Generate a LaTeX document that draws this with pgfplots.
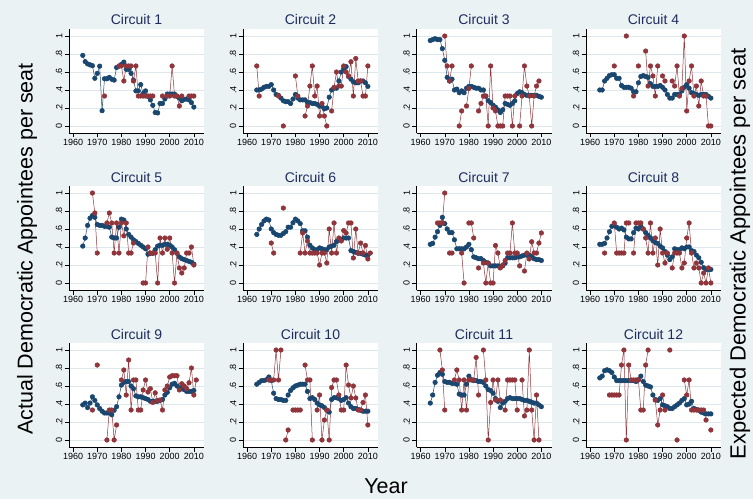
\documentclass[border=0pt]{standalone}
\usepackage{pgfplots}
\pgfplotsset{compat=1.18}
\usepackage{pgfplotstable}
\usepackage{fontspec}
\setmainfont{Liberation Sans}
\definecolor{bgc}{RGB}{234,242,243}
\definecolor{gridc}{RGB}{222,232,236}
\definecolor{titc}{RGB}{30,45,95}
\definecolor{navyc}{RGB}{26,71,111}
\definecolor{maroonc}{RGB}{144,53,59}
\pgfplotsset{
  panel/.style={
    scale only axis, width=135pt, height=104pt, anchor=south west,
    xmin=1958.3, xmax=2014.2, ymin=-0.078, ymax=1.078,
    axis x line=bottom, axis y line=left, axis line style={-, black, line width=0.5pt},
    axis background/.style={fill=white},
    xtick={1960,1970,1980,1990,2000,2010},
    xticklabels={1960,1970,1980,1990,2000,2010},
    ytick={0,0.2,0.4,0.6,0.8,1},
    yticklabels={0,.2,.4,.6,.8,1},
    ymajorgrids, grid style={gridc, line width=0.6pt},
    tick align=outside, major tick length=4.5pt,
    tick style={black, line width=0.5pt},
    /pgf/number format/assume math mode=true,
    ticklabel style={font=\fontsize{9}{10}\selectfont},
    yticklabel style={rotate=90, anchor=south, inner sep=2pt},
    xticklabel style={inner sep=2pt},
    title style={font=\fontsize{14}{15}\selectfont, color=titc, at={(0.5,1)}, anchor=base, yshift=-2pt},
    unbounded coords=jump,
  },
  blueser/.style={navyc, line width=0.5pt, mark=*, mark size=2.3pt, mark options={fill=navyc, draw=navyc}},
  redser/.style={maroonc, line width=0.5pt, mark=*, mark size=2.3pt, mark options={fill=maroonc, draw=maroonc}},
}
\pgfplotstableread{
yr b r
1964 .785 nan
1965 .715 nan
1966 .69 nan
1967 .68 nan
1968 .67 nan
1969 .53 nan
1970 .585 nan
1971 .665 nan
1972 .17 nan
1973 .525 .333
1974 .525 nan
1975 .54 nan
1976 .52 nan
1977 .51 nan
1978 .65 nan
1979 .665 .667
1980 .685 .667
1981 .71 .5
1982 .63 .667
1983 .63 .667
1984 .585 .667
1985 .51 .5
1986 .39 .667
1987 .39 .333
1988 .46 .333
1989 .36 .333
1990 .39 .333
1991 .33 .333
1992 .29 .333
1993 .23 .333
1994 .15 nan
1995 .145 nan
1996 .25 nan
1997 .25 .333
1998 .30 nan
1999 .355 .333
2000 .355 .333
2001 .355 .667
2002 .355 .333
2003 .33 .333
2004 .31 .222
2005 .28 .333
2006 .295 nan
2007 .30 nan
2008 .29 .333
2009 .26 .333
2010 .21 .333
}\tA
\pgfplotstableread{
yr b r
1964 .40 .667
1965 .40 .333
1966 .41 nan
1967 .43 nan
1968 .44 nan
1969 .44 nan
1970 .46 nan
1971 .40 nan
1972 .35 nan
1973 .34 .333
1974 .31 nan
1975 .28 0
1976 .27 nan
1977 .27 nan
1978 .25 nan
1979 .30 nan
1980 .35 .556
1981 .31 .333
1982 .29 nan
1983 .29 nan
1984 .29 .111
1985 .26 .222
1986 .26 .444
1987 .25 .667
1988 .25 .333
1989 .24 .444
1990 .22 .111
1991 .22 .25
1992 .19 .111
1993 .20 0
1994 .32 nan
1995 .40 .167
1996 .42 .429
1997 .42 .6
1998 .50 .444
1999 .60 .444
2000 .64 .667
2001 .66 .6
2002 .55 .556
2003 .52 .714
2004 .49 .333
2005 .48 .75
2006 .48 .5
2007 .50 .5
2008 .50 .333
2009 .48 .333
2010 .44 .667
}\tB
\pgfplotstableread{
yr b r
1964 .95 nan
1965 .96 nan
1966 .97 nan
1967 .96 nan
1968 .96 nan
1969 .86 nan
1970 .73 1.0
1971 .54 .667
1972 .50 .5
1973 .52 .667
1974 .40 nan
1975 .41 nan
1976 .37 0
1977 .39 .167
1978 .37 nan
1979 .42 .222
1980 .44 .417
1981 .44 .667
1982 .43 nan
1983 .42 nan
1984 .42 .167
1985 .40 .25
1986 .40 .333
1987 .33 .333
1988 .28 0
1989 .26 .667
1990 .23 .2
1991 .21 .167
1992 .18 0
1993 .15 0
1994 .18 0
1995 .25 .333
1996 .24 .333
1997 .23 .333
1998 .25 0
1999 .28 .333
2000 .36 nan
2001 .38 0
2002 .37 .333
2003 .35 .667
2004 .34 .444
2005 .34 .333
2006 .34 0
2007 .34 .333
2008 .34 .444
2009 .33 .5
2010 .32 nan
}\tC
\pgfplotstableread{
yr b r
1964 .40 nan
1965 .40 nan
1966 .50 nan
1967 .53 nan
1968 .56 nan
1969 .57 nan
1970 .57 .667
1971 .53 nan
1972 .53 nan
1973 .45 nan
1974 .43 nan
1975 .43 1.0
1976 .43 nan
1977 .42 nan
1978 .38 .333
1979 .38 nan
1980 .48 .667
1981 .55 nan
1982 .56 nan
1983 .55 .833
1984 .54 .444
1985 .47 .667
1986 .44 .556
1987 .44 .333
1988 .44 .667
1989 .45 nan
1990 .43 .556
1991 .40 .5
1992 .35 nan
1993 .31 nan
1994 .31 .5
1995 .35 .444
1996 .35 .667
1997 .35 .333
1998 .39 .417
1999 .43 1.0
2000 .46 .167
2001 .42 .5
2002 .37 .667
2003 .36 .333
2004 .35 .444
2005 .34 .222
2006 .35 .5
2007 .35 .333
2008 .35 .333
2009 .33 0
2010 .31 0
}\tD
\pgfplotstableread{
yr b r
1964 .41 nan
1965 .50 nan
1966 .64 nan
1967 .72 nan
1968 .75 1.0
1969 .73 .778
1970 .65 .333
1971 .64 nan
1972 .64 nan
1973 .63 nan
1974 .63 .667
1975 .62 .778
1976 .51 .667
1977 .50 .333
1978 .50 .667
1979 .62 .333
1980 .71 .667
1981 .70 .524
1982 .60 .667
1983 .54 .333
1984 .51 .333
1985 .48 .444
1986 .46 nan
1987 .44 nan
1988 .42 nan
1989 .40 0
1990 .38 0
1991 .32 .4
1992 .33 .333
1993 .33 .333
1994 .37 .333
1995 .41 0
1996 .42 .5
1997 .42 .333
1998 .43 .5
1999 .43 .375
2000 .42 .5
2001 .40 .333
2002 .37 0
2003 .33 .333
2004 .29 .167
2005 .27 .111
2006 .26 .167
2007 .25 .333
2008 .24 .333
2009 .23 .4
2010 .21 .2
}\tE
\pgfplotstableread{
yr b r
1964 .54 nan
1965 .60 nan
1966 .65 nan
1967 .69 nan
1968 .71 nan
1969 .70 nan
1970 .60 .444
1971 .56 .333
1972 .54 nan
1973 .53 nan
1974 .53 nan
1975 .55 .833
1976 .57 nan
1977 .62 nan
1978 .62 nan
1979 .67 nan
1980 .71 nan
1981 .69 nan
1982 .66 .333
1983 .58 .556
1984 .58 .333
1985 .51 .467
1986 .42 .333
1987 .39 .333
1988 .37 .333
1989 .37 .333
1990 .39 .2
1991 .38 .333
1992 .37 .333
1993 .37 .222
1994 .40 .6
1995 .41 .333
1996 .42 .667
1997 .46 .333
1998 .48 .5
1999 .48 .467
2000 .50 .583
2001 .50 .556
2002 .50 .667
2003 .36 .667
2004 .35 .278
2005 .34 .6
2006 .33 .333
2007 .33 .444
2008 .32 .333
2009 .31 .417
2010 .31 .267
2011 nan .333
}\tF
\pgfplotstableread{
yr b r
1964 .43 nan
1965 .44 nan
1966 .51 nan
1967 .57 .667
1968 .64 .667
1969 .73 .667
1970 .66 1.0
1971 .60 nan
1972 .56 .333
1973 .56 .333
1974 .48 nan
1975 .38 nan
1976 .38 nan
1977 .38 .333
1978 .38 0
1979 .40 nan
1980 .43 .667
1981 .37 .667
1982 .29 .5
1983 .28 nan
1984 .27 .167
1985 .27 nan
1986 .25 .222
1987 .23 0
1988 .22 .222
1989 .19 0
1990 .19 0
1991 .19 .417
1992 .19 .333
1993 .18 .167
1994 .19 .2
1995 .22 .25
1996 .28 .333
1997 .28 .333
1998 .28 .667
1999 .28 .333
2000 .29 .333
2001 .29 .19
2002 .30 nan
2003 .31 .133
2004 .31 .333
2005 .31 .267
2006 .29 .458
2007 .27 .333
2008 .26 .333
2009 .26 .444
2010 .25 .556
}\tG
\pgfplotstableread{
yr b r
1964 .43 nan
1965 .43 nan
1966 .44 .333
1967 .50 nan
1968 .57 nan
1969 .63 nan
1970 .64 .667
1971 .62 .333
1972 .60 .333
1973 .61 .333
1974 .59 .333
1975 .51 .667
1976 .49 .667
1977 .49 nan
1978 .56 .333
1979 .61 .667
1980 .60 .667
1981 .63 .667
1982 .60 .6
1983 .56 .5
1984 .53 .333
1985 .50 .667
1986 .47 .333
1987 .45 .5
1988 .44 .2
1989 .41 .6
1990 .39 .333
1991 .35 .222
1992 .31 .333
1993 .26 nan
1994 .29 .167
1995 .38 .333
1996 .37 .333
1997 .37 .333
1998 .39 .167
1999 .38 .222
2000 .40 .5
2001 .40 .667
2002 .36 .333
2003 .35 .167
2004 .31 .222
2005 .28 .167
2006 .23 0
2007 .17 .111
2008 .15 0
2009 .15 .167
2010 .15 0
}\tH
\pgfplotstableread{
yr b r
1964 .39 nan
1965 .41 nan
1966 .36 nan
1967 .41 nan
1968 .48 .333
1969 .44 nan
1970 .39 .833
1971 .35 nan
1972 .32 nan
1973 .30 nan
1974 .30 0
1975 .30 .333
1976 .28 .333
1977 .33 0
1978 .37 .167
1979 .48 nan
1980 .61 .667
1981 .64 .778
1982 .65 .5
1983 .65 .889
1984 .60 .333
1985 .57 .667
1986 .49 .667
1987 .48 .333
1988 .48 .333
1989 .47 .556
1990 .46 .667
1991 .45 .533
1992 .43 .571
1993 .43 .417
1994 .43 .524
1995 .43 .44
1996 .44 .444
1997 .45 .333
1998 .50 .556
1999 .53 .6
2000 .58 .7
2001 .62 .714
2002 .63 .714
2003 .60 .714
2004 .58 .556
2005 .57 .625
2006 .56 .6
2007 .54 .571
2008 .54 .636
2009 .54 .8
2010 .55 .5
2011 nan .667
}\tI
\pgfplotstableread{
yr b r
1964 .62 nan
1965 .64 nan
1966 .66 nan
1967 .66 nan
1968 .67 nan
1969 .70 .667
1970 .66 .667
1971 .52 .667
1972 .46 1.0
1973 .45 .667
1974 .45 1.0
1975 .44 nan
1976 .44 0
1977 .50 .111
1978 .55 nan
1979 .58 .333
1980 .60 .333
1981 .61 .333
1982 .62 .333
1983 .62 nan
1984 .62 .833
1985 .54 .667
1986 .46 .667
1987 .47 0
1988 .45 nan
1989 .41 .333
1990 .39 .5
1991 .38 0
1992 .36 .222
1993 .33 .333
1994 .31 0
1995 .45 .583
1996 .47 .667
1997 .47 .667
1998 .46 .5
1999 .44 .333
2000 .45 .333
2001 .47 .833
2002 .41 .611
2003 .37 .467
2004 .35 .6
2005 .35 .467
2006 .34 .333
2007 .33 .333
2008 .32 .417
2009 .32 .5
2010 .32 .167
}\tJ
\pgfplotstableread{
yr b r
1964 .41 nan
1965 .50 nan
1966 .64 nan
1967 .72 nan
1968 .75 1.0
1969 .73 .778
1970 .65 .333
1971 .64 nan
1972 .64 nan
1973 .63 nan
1974 .63 .667
1975 .62 .778
1976 .51 .667
1977 .50 .333
1978 .50 .667
1979 .62 .333
1980 .71 .667
1981 .67 .667
1982 .66 .667
1983 .66 .917
1984 .65 .5
1985 .65 nan
1986 .64 1.0
1987 .60 .667
1988 .56 0
1989 .55 .417
1990 .52 .667
1991 .46 .444
1992 .43 .667
1993 .36 .444
1994 .41 nan
1995 .43 .333
1996 .46 .667
1997 .47 .667
1998 .46 .667
1999 .46 .667
2000 .46 .333
2001 .46 nan
2002 .45 .667
2003 .44 .267
2004 .44 .333
2005 .43 1.0
2006 .42 .333
2007 .41 0
2008 .41 .5
2009 .39 0
2010 .37 nan
}\tK
\pgfplotstableread{
yr b r
1964 .69 nan
1965 .71 nan
1966 .77 nan
1967 .78 nan
1968 .77 .5
1969 .75 .5
1970 .70 .5
1971 .66 .5
1972 .66 .5
1973 .66 .833
1974 .66 1.0
1975 .66 0
1976 .66 .833
1977 .66 .667
1978 .66 .667
1979 .65 .667
1980 .67 .667
1981 .71 .333
1982 .65 .333
1983 .61 .833
1984 .60 1.0
1985 .59 nan
1986 .50 nan
1987 .45 .444
1988 .44 .167
1989 .46 .333
1990 .39 .5
1991 .38 .333
1992 .37 nan
1993 .35 1.0
1994 .35 nan
1995 .37 nan
1996 .39 0
1997 .41 nan
1998 .44 nan
1999 .46 .667
2000 .39 .5
2001 .40 .667
2002 .43 .333
2003 .35 .333
2004 .34 .333
2005 .33 .333
2006 .31 .333
2007 .30 .333
2008 .29 .222
2009 .29 nan
2010 .29 .111
}\tL
\newcommand\panel[4]{%
  \begin{axis}[panel, at={(#1pt,#2pt)}, title={#3}]
    \addplot[blueser] table[x index=0, y index=1]{#4};
    \addplot[redser] table[x index=0, y index=2]{#4};
  \end{axis}}
\begin{document}
\begin{tikzpicture}
\fill[bgc] (0pt,0pt) rectangle (753pt,499pt);
\useasboundingbox (0pt,0pt) rectangle (753pt,499pt);
\panel{69}{366}{Circuit 1}{\tA}
\panel{243}{366}{Circuit 2}{\tB}
\panel{416.5}{366}{Circuit 3}{\tC}
\panel{586}{366}{Circuit 4}{\tD}
\panel{69}{209}{Circuit 5}{\tE}
\panel{243}{209}{Circuit 6}{\tF}
\panel{416.5}{209}{Circuit 7}{\tG}
\panel{586}{209}{Circuit 8}{\tH}
\panel{69}{52}{Circuit 9}{\tI}
\panel{243}{52}{Circuit 10}{\tJ}
\panel{416.5}{52}{Circuit 11}{\tK}
\panel{586}{52}{Circuit 12}{\tL}
\node[rotate=90, font=\fontsize{21.5}{22}\selectfont] at (27pt,250pt) {Actual Democratic Appointees per seat};
\node[rotate=90, font=\fontsize{22}{23}\selectfont] at (740pt,245pt) {Expected Democratic Appointees per seat};
\node[font=\fontsize{21.5}{22}\selectfont] at (386pt,13pt) {Year};
\end{tikzpicture}
\end{document}
